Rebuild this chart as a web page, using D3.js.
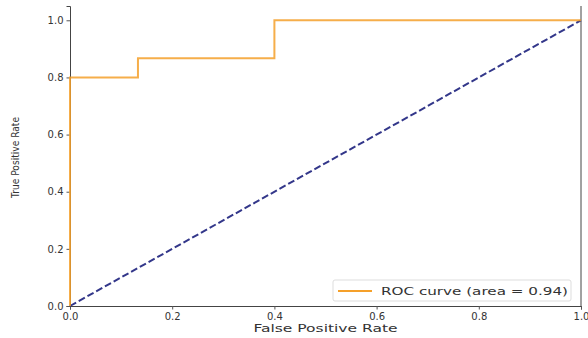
<!DOCTYPE html>
<html><head><meta charset="utf-8">
<script src="https://cdn.jsdelivr.net/npm/d3@7"></script>
<style>body{margin:0;background:#fff}svg{display:block}text{font-family:"DejaVu Sans",sans-serif;fill:#333}</style>
</head><body>
<script>
const fpr = [0, 0, 0.133, 0.133, 0.4, 0.4, 1];
const tpr = [0, 0.8, 0.8, 0.867, 0.867, 1, 1];
const diagX = [0, 1];
const diagY = [0, 1];
const xTicks = [0, 0.2, 0.4, 0.6, 0.8, 1.0];
const yTicks = [0, 0.2, 0.4, 0.6, 0.8, 1.0];
const legendLabel = "ROC curve (area = 0.94)";
const xTitle = "False Positive Rate";
const yTitle = "True Positive Rate";

const W = 588, H = 338;
const m = {l: 70, r: 7, t: 6, b: 32};
const svg = d3.select("body").append("svg").attr("width", W).attr("height", H);
const x = d3.scaleLinear().domain([0, 1]).range([m.l, W - m.r]);
const y = d3.scaleLinear().domain([0, 1.05]).range([H - m.b, m.t]);

const xa = svg.append("g").attr("transform", `translate(0,${H - m.b})`)
  .call(d3.axisBottom(x).tickValues(xTicks).tickFormat(d3.format(".1f")).tickSize(3.5).tickPadding(3));
const ya = svg.append("g").attr("transform", `translate(${m.l},0)`)
  .call(d3.axisLeft(y).tickValues(yTicks).tickFormat(d3.format(".1f")).tickSize(3.5).tickPadding(3));
[xa, ya].forEach(a => {
  a.select(".domain").attr("stroke", "#444");
  a.selectAll(".tick line").attr("stroke", "#555");
  a.selectAll("text").attr("font-size", 10).attr("fill", "#555").attr("font-family", "DejaVu Sans");
});
svg.append("line").attr("x1", W - m.r).attr("x2", W - m.r).attr("y1", m.t).attr("y2", H - m.b)
  .attr("stroke", "#444");

const line = d3.line().x(d => x(d[0])).y(d => y(d[1]));
svg.append("path").datum(diagX.map((v, i) => [v, diagY[i]]))
  .attr("d", line).attr("fill", "none").attr("stroke", "#33378a")
  .attr("stroke-width", 2).attr("stroke-dasharray", "7,3");
svg.append("path").datum(fpr.map((v, i) => [v, tpr[i]]))
  .attr("d", line).attr("fill", "none").attr("stroke", "#f5a02a")
  .attr("stroke-width", 2).attr("opacity", 0.85);

svg.append("text").attr("x", (m.l + W - m.r) / 2).attr("y", 332).attr("text-anchor", "middle")
  .attr("font-size", 10.5).attr("textLength", 144).attr("lengthAdjust", "spacingAndGlyphs")
  .attr("fill", "#444").text(xTitle);
svg.append("text").attr("transform", `translate(19,${(117 + 198) / 2}) rotate(-90)`)
  .attr("text-anchor", "middle").attr("font-size", 10).attr("textLength", 81)
  .attr("lengthAdjust", "spacingAndGlyphs").attr("fill", "#444").text(yTitle);

const lg = svg.append("g");
lg.append("rect").attr("x", 333).attr("y", 280).attr("width", 238).attr("height", 21)
  .attr("rx", 2).attr("fill", "#fff").attr("stroke", "#ddd");
lg.append("line").attr("x1", 338).attr("x2", 372).attr("y1", 291).attr("y2", 291)
  .attr("stroke", "#f5a02a").attr("stroke-width", 2);
lg.append("text").attr("x", 381).attr("y", 295).attr("font-size", 10.5)
  .attr("textLength", 187).attr("lengthAdjust", "spacingAndGlyphs")
  .attr("fill", "#444").text(legendLabel);
</script>
</body></html>
